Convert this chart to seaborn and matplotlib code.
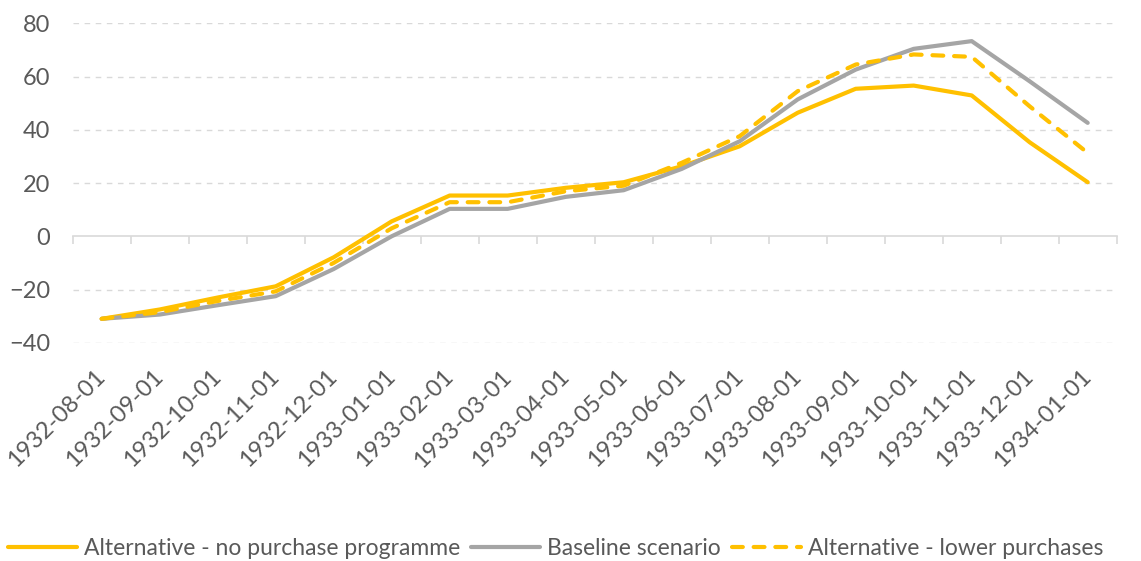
import matplotlib
matplotlib.use("Agg")
import matplotlib.pyplot as plt
import seaborn as sns
import pandas as pd
import numpy as np

dates = ["1932-08-01", "1932-09-01", "1932-10-01", "1932-11-01", "1932-12-01",
         "1933-01-01", "1933-02-01", "1933-03-01", "1933-04-01", "1933-05-01",
         "1933-06-01", "1933-07-01", "1933-08-01", "1933-09-01", "1933-10-01",
         "1933-11-01", "1933-12-01", "1934-01-01"]
no_purchase = [-31, -27.5, -23, -18.8, -7.9, 5.6, 15.3, 15.3, 18.2, 20.3,
               26.3, 33.8, 46.4, 55.4, 56.6, 52.9, 35.3, 20.3]
baseline = [-31, -29.4, -25.9, -22.5, -12.3, 0, 10.3, 10.3, 14.8, 17.3,
            25.3, 35.7, 51.4, 62.6, 70.4, 73.3, 58.2, 42.6]
lower_purchases = [-31, -28.5, -24.3, -20.7, -10, 3, 12.8, 12.8, 16.9, 19,
                   27.6, 37.6, 54.5, 64.5, 68.3, 67.4, 48.8, 31.3]
series_names = ["Alternative - no purchase programme", "Baseline scenario",
                "Alternative - lower purchases"]
yticks = [-40, -20, 0, 20, 40, 60, 80]

YELLOW = "#FFC000"
GREY = "#A5A5A5"
TEXT = "#595959"
GRID = "#D9D9D9"

sns.set_theme(style="white")
plt.rcParams["font.family"] = ["Lato", "DejaVu Sans"]

fig = plt.figure(figsize=(11.41, 5.61), dpi=100)
ax = fig.add_axes([0.0637, 0.389, 0.915, 0.5695])

sns.lineplot(x=dates, y=no_purchase, color=YELLOW, linewidth=3,
             label=series_names[0], ax=ax, sort=False)
sns.lineplot(x=dates, y=baseline, color=GREY, linewidth=3,
             label=series_names[1], ax=ax, sort=False)
sns.lineplot(x=dates, y=lower_purchases, color=YELLOW, linewidth=3,
             label=series_names[2], ax=ax, sort=False)
ax.lines[2].set_dashes((2.6, 2.6))
ax.lines[2].set_dash_capstyle("round")
for ln in ax.lines:
    ln.set_solid_joinstyle("round")

ax.set_xlim(-0.5, len(dates) - 0.5)
ax.set_ylim(-40, 80)
ax.set_yticks(yticks)
ax.set_xlabel("")
ax.set_ylabel("")
for s in ax.spines.values():
    s.set_visible(False)

# dashed gridlines, solid zero axis with ticks between categories
for v in yticks:
    if v != 0:
        ax.axhline(v, color=GRID, lw=1, ls=(0, (4, 4)), zorder=0)
zero_ax = ax.secondary_xaxis(0, transform=ax.transData)
zero_ax.set_xticks(np.arange(len(dates) + 1) - 0.5)
zero_ax.set_xticklabels([])
zero_ax.tick_params(axis="x", length=6, width=1.2, color=GRID, direction="out")
zero_ax.spines["bottom"].set_color(GRID)
zero_ax.spines["bottom"].set_linewidth(1.2)

ax.tick_params(axis="y", length=0, pad=16, labelsize=17, labelcolor=TEXT)
ax.tick_params(axis="x", length=0, pad=22, labelsize=17, labelcolor=TEXT)
plt.setp(ax.get_xticklabels(), rotation=45, ha="right", va="center",
         rotation_mode="anchor")

legend = ax.legend(loc="center left", bbox_to_anchor=(0.003, 0.023),
                   bbox_transform=fig.transFigure, ncol=3, frameon=False,
                   fontsize=16.5, labelcolor=TEXT, handlelength=3.0,
                   handletextpad=0.3, columnspacing=0.5, borderaxespad=0,
                   borderpad=0.2)
for h in legend.get_lines():
    h.set_dash_capstyle("round")
    h.set_solid_capstyle("round")

fig.savefig("out.png", dpi=100)
